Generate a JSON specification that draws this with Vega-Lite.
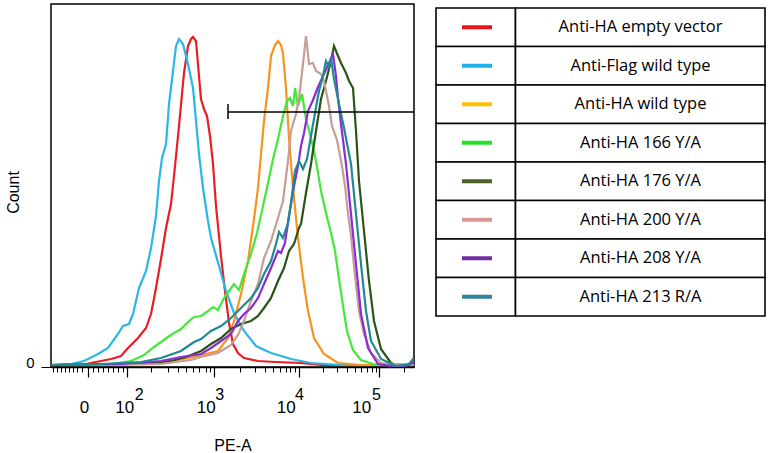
{
  "$schema": "https://vega.github.io/schema/vega-lite/v6.json",
  "background": "white",
  "padding": {"left": 4, "top": 3, "right": 0, "bottom": 0},
  "config": {"font": "Liberation Sans", "view": {"stroke": null}},
  "resolve": {"scale": {"color": "independent"}},
  "spacing": 19,
  "datasets": {
    "legend": [
      {"series": "Anti-HA empty vector"},
      {"series": "Anti-Flag wild type"},
      {"series": "Anti-HA wild type"},
      {"series": "Anti-HA 166 Y/A"},
      {"series": "Anti-HA 176 Y/A"},
      {"series": "Anti-HA 200 Y/A"},
      {"series": "Anti-HA 208 Y/A"},
      {"series": "Anti-HA 213 R/A"}
    ],
    "gate": [
      {"channel": 177, "channel2": 363, "count": 255, "count2": 255},
      {"channel": 177, "channel2": 177, "count": 248, "count2": 263}
    ],
    "curves": [
      {"series": "Anti-HA empty vector", "channel": 0, "count": 2},
      {"series": "Anti-HA empty vector", "channel": 30, "count": 2},
      {"series": "Anti-HA empty vector", "channel": 40, "count": 4},
      {"series": "Anti-HA empty vector", "channel": 50, "count": 6},
      {"series": "Anti-HA empty vector", "channel": 60, "count": 8},
      {"series": "Anti-HA empty vector", "channel": 70, "count": 11},
      {"series": "Anti-HA empty vector", "channel": 77, "count": 19},
      {"series": "Anti-HA empty vector", "channel": 87, "count": 29},
      {"series": "Anti-HA empty vector", "channel": 95, "count": 39},
      {"series": "Anti-HA empty vector", "channel": 100, "count": 53},
      {"series": "Anti-HA empty vector", "channel": 105, "count": 79},
      {"series": "Anti-HA empty vector", "channel": 110, "count": 108},
      {"series": "Anti-HA empty vector", "channel": 115, "count": 139},
      {"series": "Anti-HA empty vector", "channel": 120, "count": 163},
      {"series": "Anti-HA empty vector", "channel": 123, "count": 191},
      {"series": "Anti-HA empty vector", "channel": 128, "count": 241},
      {"series": "Anti-HA empty vector", "channel": 133, "count": 294},
      {"series": "Anti-HA empty vector", "channel": 137, "count": 321},
      {"series": "Anti-HA empty vector", "channel": 140, "count": 328},
      {"series": "Anti-HA empty vector", "channel": 142, "count": 330},
      {"series": "Anti-HA empty vector", "channel": 145, "count": 326},
      {"series": "Anti-HA empty vector", "channel": 148, "count": 291},
      {"series": "Anti-HA empty vector", "channel": 150, "count": 268},
      {"series": "Anti-HA empty vector", "channel": 153, "count": 258},
      {"series": "Anti-HA empty vector", "channel": 156, "count": 251},
      {"series": "Anti-HA empty vector", "channel": 159, "count": 231},
      {"series": "Anti-HA empty vector", "channel": 162, "count": 203},
      {"series": "Anti-HA empty vector", "channel": 165, "count": 161},
      {"series": "Anti-HA empty vector", "channel": 170, "count": 111},
      {"series": "Anti-HA empty vector", "channel": 174, "count": 76},
      {"series": "Anti-HA empty vector", "channel": 178, "count": 44},
      {"series": "Anti-HA empty vector", "channel": 182, "count": 23},
      {"series": "Anti-HA empty vector", "channel": 187, "count": 14},
      {"series": "Anti-HA empty vector", "channel": 193, "count": 9},
      {"series": "Anti-HA empty vector", "channel": 207, "count": 6},
      {"series": "Anti-HA empty vector", "channel": 225, "count": 5},
      {"series": "Anti-HA empty vector", "channel": 250, "count": 4},
      {"series": "Anti-HA empty vector", "channel": 270, "count": 2},
      {"series": "Anti-HA empty vector", "channel": 363, "count": 2},

      {"series": "Anti-Flag wild type", "channel": 0, "count": 2},
      {"series": "Anti-Flag wild type", "channel": 20, "count": 3},
      {"series": "Anti-Flag wild type", "channel": 33, "count": 6},
      {"series": "Anti-Flag wild type", "channel": 47, "count": 13},
      {"series": "Anti-Flag wild type", "channel": 57, "count": 19},
      {"series": "Anti-Flag wild type", "channel": 67, "count": 33},
      {"series": "Anti-Flag wild type", "channel": 72, "count": 41},
      {"series": "Anti-Flag wild type", "channel": 78, "count": 43},
      {"series": "Anti-Flag wild type", "channel": 82, "count": 53},
      {"series": "Anti-Flag wild type", "channel": 88, "count": 79},
      {"series": "Anti-Flag wild type", "channel": 95, "count": 96},
      {"series": "Anti-Flag wild type", "channel": 100, "count": 119},
      {"series": "Anti-Flag wild type", "channel": 105, "count": 151},
      {"series": "Anti-Flag wild type", "channel": 108, "count": 186},
      {"series": "Anti-Flag wild type", "channel": 111, "count": 209},
      {"series": "Anti-Flag wild type", "channel": 115, "count": 223},
      {"series": "Anti-Flag wild type", "channel": 118, "count": 263},
      {"series": "Anti-Flag wild type", "channel": 122, "count": 296},
      {"series": "Anti-Flag wild type", "channel": 125, "count": 321},
      {"series": "Anti-Flag wild type", "channel": 128, "count": 328},
      {"series": "Anti-Flag wild type", "channel": 132, "count": 323},
      {"series": "Anti-Flag wild type", "channel": 137, "count": 303},
      {"series": "Anti-Flag wild type", "channel": 142, "count": 279},
      {"series": "Anti-Flag wild type", "channel": 145, "count": 246},
      {"series": "Anti-Flag wild type", "channel": 148, "count": 213},
      {"series": "Anti-Flag wild type", "channel": 152, "count": 179},
      {"series": "Anti-Flag wild type", "channel": 157, "count": 146},
      {"series": "Anti-Flag wild type", "channel": 160, "count": 129},
      {"series": "Anti-Flag wild type", "channel": 168, "count": 101},
      {"series": "Anti-Flag wild type", "channel": 175, "count": 76},
      {"series": "Anti-Flag wild type", "channel": 183, "count": 54},
      {"series": "Anti-Flag wild type", "channel": 193, "count": 36},
      {"series": "Anti-Flag wild type", "channel": 205, "count": 21},
      {"series": "Anti-Flag wild type", "channel": 220, "count": 14},
      {"series": "Anti-Flag wild type", "channel": 240, "count": 8},
      {"series": "Anti-Flag wild type", "channel": 260, "count": 4},
      {"series": "Anti-Flag wild type", "channel": 290, "count": 2},
      {"series": "Anti-Flag wild type", "channel": 363, "count": 2},

      {"series": "Anti-HA wild type", "channel": 0, "count": 2},
      {"series": "Anti-HA wild type", "channel": 110, "count": 4},
      {"series": "Anti-HA wild type", "channel": 143, "count": 10},
      {"series": "Anti-HA wild type", "channel": 167, "count": 16},
      {"series": "Anti-HA wild type", "channel": 177, "count": 29},
      {"series": "Anti-HA wild type", "channel": 183, "count": 46},
      {"series": "Anti-HA wild type", "channel": 190, "count": 73},
      {"series": "Anti-HA wild type", "channel": 197, "count": 106},
      {"series": "Anti-HA wild type", "channel": 203, "count": 148},
      {"series": "Anti-HA wild type", "channel": 207, "count": 179},
      {"series": "Anti-HA wild type", "channel": 210, "count": 213},
      {"series": "Anti-HA wild type", "channel": 213, "count": 246},
      {"series": "Anti-HA wild type", "channel": 217, "count": 279},
      {"series": "Anti-HA wild type", "channel": 220, "count": 311},
      {"series": "Anti-HA wild type", "channel": 224, "count": 322},
      {"series": "Anti-HA wild type", "channel": 227, "count": 326},
      {"series": "Anti-HA wild type", "channel": 230, "count": 322},
      {"series": "Anti-HA wild type", "channel": 232, "count": 313},
      {"series": "Anti-HA wild type", "channel": 235, "count": 279},
      {"series": "Anti-HA wild type", "channel": 238, "count": 229},
      {"series": "Anti-HA wild type", "channel": 242, "count": 179},
      {"series": "Anti-HA wild type", "channel": 247, "count": 129},
      {"series": "Anti-HA wild type", "channel": 252, "count": 89},
      {"series": "Anti-HA wild type", "channel": 257, "count": 56},
      {"series": "Anti-HA wild type", "channel": 263, "count": 29},
      {"series": "Anti-HA wild type", "channel": 273, "count": 13},
      {"series": "Anti-HA wild type", "channel": 287, "count": 4},
      {"series": "Anti-HA wild type", "channel": 310, "count": 2},
      {"series": "Anti-HA wild type", "channel": 363, "count": 2},

      {"series": "Anti-HA 166 Y/A", "channel": 0, "count": 2},
      {"series": "Anti-HA 166 Y/A", "channel": 60, "count": 3},
      {"series": "Anti-HA 166 Y/A", "channel": 80, "count": 6},
      {"series": "Anti-HA 166 Y/A", "channel": 93, "count": 12},
      {"series": "Anti-HA 166 Y/A", "channel": 103, "count": 20},
      {"series": "Anti-HA 166 Y/A", "channel": 110, "count": 25},
      {"series": "Anti-HA 166 Y/A", "channel": 117, "count": 30},
      {"series": "Anti-HA 166 Y/A", "channel": 123, "count": 34},
      {"series": "Anti-HA 166 Y/A", "channel": 130, "count": 38},
      {"series": "Anti-HA 166 Y/A", "channel": 137, "count": 45},
      {"series": "Anti-HA 166 Y/A", "channel": 143, "count": 50},
      {"series": "Anti-HA 166 Y/A", "channel": 150, "count": 51},
      {"series": "Anti-HA 166 Y/A", "channel": 157, "count": 56},
      {"series": "Anti-HA 166 Y/A", "channel": 162, "count": 60},
      {"series": "Anti-HA 166 Y/A", "channel": 167, "count": 57},
      {"series": "Anti-HA 166 Y/A", "channel": 173, "count": 69},
      {"series": "Anti-HA 166 Y/A", "channel": 178, "count": 76},
      {"series": "Anti-HA 166 Y/A", "channel": 183, "count": 83},
      {"series": "Anti-HA 166 Y/A", "channel": 188, "count": 77},
      {"series": "Anti-HA 166 Y/A", "channel": 193, "count": 93},
      {"series": "Anti-HA 166 Y/A", "channel": 200, "count": 113},
      {"series": "Anti-HA 166 Y/A", "channel": 206, "count": 134},
      {"series": "Anti-HA 166 Y/A", "channel": 212, "count": 161},
      {"series": "Anti-HA 166 Y/A", "channel": 217, "count": 184},
      {"series": "Anti-HA 166 Y/A", "channel": 222, "count": 208},
      {"series": "Anti-HA 166 Y/A", "channel": 227, "count": 228},
      {"series": "Anti-HA 166 Y/A", "channel": 232, "count": 251},
      {"series": "Anti-HA 166 Y/A", "channel": 236, "count": 266},
      {"series": "Anti-HA 166 Y/A", "channel": 239, "count": 269},
      {"series": "Anti-HA 166 Y/A", "channel": 242, "count": 261},
      {"series": "Anti-HA 166 Y/A", "channel": 244, "count": 279},
      {"series": "Anti-HA 166 Y/A", "channel": 247, "count": 261},
      {"series": "Anti-HA 166 Y/A", "channel": 251, "count": 273},
      {"series": "Anti-HA 166 Y/A", "channel": 255, "count": 248},
      {"series": "Anti-HA 166 Y/A", "channel": 260, "count": 229},
      {"series": "Anti-HA 166 Y/A", "channel": 265, "count": 206},
      {"series": "Anti-HA 166 Y/A", "channel": 270, "count": 176},
      {"series": "Anti-HA 166 Y/A", "channel": 275, "count": 154},
      {"series": "Anti-HA 166 Y/A", "channel": 280, "count": 134},
      {"series": "Anti-HA 166 Y/A", "channel": 284, "count": 116},
      {"series": "Anti-HA 166 Y/A", "channel": 288, "count": 88},
      {"series": "Anti-HA 166 Y/A", "channel": 292, "count": 61},
      {"series": "Anti-HA 166 Y/A", "channel": 296, "count": 36},
      {"series": "Anti-HA 166 Y/A", "channel": 302, "count": 17},
      {"series": "Anti-HA 166 Y/A", "channel": 310, "count": 7},
      {"series": "Anti-HA 166 Y/A", "channel": 322, "count": 3},
      {"series": "Anti-HA 166 Y/A", "channel": 363, "count": 2},

      {"series": "Anti-HA 176 Y/A", "channel": 0, "count": 2},
      {"series": "Anti-HA 176 Y/A", "channel": 70, "count": 3},
      {"series": "Anti-HA 176 Y/A", "channel": 100, "count": 4},
      {"series": "Anti-HA 176 Y/A", "channel": 120, "count": 6},
      {"series": "Anti-HA 176 Y/A", "channel": 135, "count": 10},
      {"series": "Anti-HA 176 Y/A", "channel": 150, "count": 16},
      {"series": "Anti-HA 176 Y/A", "channel": 160, "count": 23},
      {"series": "Anti-HA 176 Y/A", "channel": 170, "count": 29},
      {"series": "Anti-HA 176 Y/A", "channel": 180, "count": 38},
      {"series": "Anti-HA 176 Y/A", "channel": 190, "count": 43},
      {"series": "Anti-HA 176 Y/A", "channel": 200, "count": 46},
      {"series": "Anti-HA 176 Y/A", "channel": 207, "count": 51},
      {"series": "Anti-HA 176 Y/A", "channel": 213, "count": 59},
      {"series": "Anti-HA 176 Y/A", "channel": 220, "count": 69},
      {"series": "Anti-HA 176 Y/A", "channel": 227, "count": 86},
      {"series": "Anti-HA 176 Y/A", "channel": 233, "count": 99},
      {"series": "Anti-HA 176 Y/A", "channel": 238, "count": 116},
      {"series": "Anti-HA 176 Y/A", "channel": 243, "count": 123},
      {"series": "Anti-HA 176 Y/A", "channel": 248, "count": 139},
      {"series": "Anti-HA 176 Y/A", "channel": 250, "count": 143},
      {"series": "Anti-HA 176 Y/A", "channel": 255, "count": 174},
      {"series": "Anti-HA 176 Y/A", "channel": 260, "count": 203},
      {"series": "Anti-HA 176 Y/A", "channel": 265, "count": 236},
      {"series": "Anti-HA 176 Y/A", "channel": 270, "count": 268},
      {"series": "Anti-HA 176 Y/A", "channel": 275, "count": 286},
      {"series": "Anti-HA 176 Y/A", "channel": 280, "count": 306},
      {"series": "Anti-HA 176 Y/A", "channel": 283, "count": 321},
      {"series": "Anti-HA 176 Y/A", "channel": 287, "count": 311},
      {"series": "Anti-HA 176 Y/A", "channel": 290, "count": 304},
      {"series": "Anti-HA 176 Y/A", "channel": 295, "count": 294},
      {"series": "Anti-HA 176 Y/A", "channel": 298, "count": 286},
      {"series": "Anti-HA 176 Y/A", "channel": 302, "count": 279},
      {"series": "Anti-HA 176 Y/A", "channel": 305, "count": 236},
      {"series": "Anti-HA 176 Y/A", "channel": 308, "count": 186},
      {"series": "Anti-HA 176 Y/A", "channel": 313, "count": 136},
      {"series": "Anti-HA 176 Y/A", "channel": 318, "count": 86},
      {"series": "Anti-HA 176 Y/A", "channel": 323, "count": 46},
      {"series": "Anti-HA 176 Y/A", "channel": 330, "count": 18},
      {"series": "Anti-HA 176 Y/A", "channel": 340, "count": 4},
      {"series": "Anti-HA 176 Y/A", "channel": 350, "count": 0},
      {"series": "Anti-HA 176 Y/A", "channel": 356, "count": 1},
      {"series": "Anti-HA 176 Y/A", "channel": 360, "count": 5},
      {"series": "Anti-HA 176 Y/A", "channel": 363, "count": 9},

      {"series": "Anti-HA 200 Y/A", "channel": 0, "count": 2},
      {"series": "Anti-HA 200 Y/A", "channel": 70, "count": 2},
      {"series": "Anti-HA 200 Y/A", "channel": 110, "count": 3},
      {"series": "Anti-HA 200 Y/A", "channel": 140, "count": 7},
      {"series": "Anti-HA 200 Y/A", "channel": 150, "count": 10},
      {"series": "Anti-HA 200 Y/A", "channel": 167, "count": 14},
      {"series": "Anti-HA 200 Y/A", "channel": 180, "count": 22},
      {"series": "Anti-HA 200 Y/A", "channel": 187, "count": 32},
      {"series": "Anti-HA 200 Y/A", "channel": 193, "count": 46},
      {"series": "Anti-HA 200 Y/A", "channel": 200, "count": 66},
      {"series": "Anti-HA 200 Y/A", "channel": 207, "count": 83},
      {"series": "Anti-HA 200 Y/A", "channel": 213, "count": 109},
      {"series": "Anti-HA 200 Y/A", "channel": 220, "count": 126},
      {"series": "Anti-HA 200 Y/A", "channel": 227, "count": 149},
      {"series": "Anti-HA 200 Y/A", "channel": 232, "count": 166},
      {"series": "Anti-HA 200 Y/A", "channel": 237, "count": 206},
      {"series": "Anti-HA 200 Y/A", "channel": 240, "count": 236},
      {"series": "Anti-HA 200 Y/A", "channel": 245, "count": 253},
      {"series": "Anti-HA 200 Y/A", "channel": 248, "count": 269},
      {"series": "Anti-HA 200 Y/A", "channel": 252, "count": 303},
      {"series": "Anti-HA 200 Y/A", "channel": 255, "count": 331},
      {"series": "Anti-HA 200 Y/A", "channel": 258, "count": 303},
      {"series": "Anti-HA 200 Y/A", "channel": 262, "count": 304},
      {"series": "Anti-HA 200 Y/A", "channel": 265, "count": 296},
      {"series": "Anti-HA 200 Y/A", "channel": 270, "count": 293},
      {"series": "Anti-HA 200 Y/A", "channel": 273, "count": 286},
      {"series": "Anti-HA 200 Y/A", "channel": 278, "count": 261},
      {"series": "Anti-HA 200 Y/A", "channel": 281, "count": 241},
      {"series": "Anti-HA 200 Y/A", "channel": 286, "count": 227},
      {"series": "Anti-HA 200 Y/A", "channel": 291, "count": 201},
      {"series": "Anti-HA 200 Y/A", "channel": 294, "count": 181},
      {"series": "Anti-HA 200 Y/A", "channel": 297, "count": 154},
      {"series": "Anti-HA 200 Y/A", "channel": 300, "count": 131},
      {"series": "Anti-HA 200 Y/A", "channel": 304, "count": 91},
      {"series": "Anti-HA 200 Y/A", "channel": 308, "count": 56},
      {"series": "Anti-HA 200 Y/A", "channel": 313, "count": 33},
      {"series": "Anti-HA 200 Y/A", "channel": 320, "count": 14},
      {"series": "Anti-HA 200 Y/A", "channel": 330, "count": 4},
      {"series": "Anti-HA 200 Y/A", "channel": 363, "count": 2},

      {"series": "Anti-HA 208 Y/A", "channel": 0, "count": 2},
      {"series": "Anti-HA 208 Y/A", "channel": 70, "count": 3},
      {"series": "Anti-HA 208 Y/A", "channel": 110, "count": 6},
      {"series": "Anti-HA 208 Y/A", "channel": 130, "count": 10},
      {"series": "Anti-HA 208 Y/A", "channel": 150, "count": 13},
      {"series": "Anti-HA 208 Y/A", "channel": 160, "count": 19},
      {"series": "Anti-HA 208 Y/A", "channel": 170, "count": 26},
      {"series": "Anti-HA 208 Y/A", "channel": 180, "count": 33},
      {"series": "Anti-HA 208 Y/A", "channel": 187, "count": 46},
      {"series": "Anti-HA 208 Y/A", "channel": 193, "count": 53},
      {"series": "Anti-HA 208 Y/A", "channel": 200, "count": 59},
      {"series": "Anti-HA 208 Y/A", "channel": 207, "count": 69},
      {"series": "Anti-HA 208 Y/A", "channel": 213, "count": 83},
      {"series": "Anti-HA 208 Y/A", "channel": 220, "count": 99},
      {"series": "Anti-HA 208 Y/A", "channel": 227, "count": 116},
      {"series": "Anti-HA 208 Y/A", "channel": 230, "count": 114},
      {"series": "Anti-HA 208 Y/A", "channel": 234, "count": 124},
      {"series": "Anti-HA 208 Y/A", "channel": 238, "count": 151},
      {"series": "Anti-HA 208 Y/A", "channel": 243, "count": 181},
      {"series": "Anti-HA 208 Y/A", "channel": 247, "count": 201},
      {"series": "Anti-HA 208 Y/A", "channel": 250, "count": 221},
      {"series": "Anti-HA 208 Y/A", "channel": 253, "count": 234},
      {"series": "Anti-HA 208 Y/A", "channel": 257, "count": 256},
      {"series": "Anti-HA 208 Y/A", "channel": 262, "count": 267},
      {"series": "Anti-HA 208 Y/A", "channel": 267, "count": 280},
      {"series": "Anti-HA 208 Y/A", "channel": 273, "count": 293},
      {"series": "Anti-HA 208 Y/A", "channel": 278, "count": 304},
      {"series": "Anti-HA 208 Y/A", "channel": 282, "count": 313},
      {"series": "Anti-HA 208 Y/A", "channel": 285, "count": 291},
      {"series": "Anti-HA 208 Y/A", "channel": 287, "count": 269},
      {"series": "Anti-HA 208 Y/A", "channel": 290, "count": 243},
      {"series": "Anti-HA 208 Y/A", "channel": 295, "count": 203},
      {"series": "Anti-HA 208 Y/A", "channel": 300, "count": 153},
      {"series": "Anti-HA 208 Y/A", "channel": 305, "count": 103},
      {"series": "Anti-HA 208 Y/A", "channel": 310, "count": 53},
      {"series": "Anti-HA 208 Y/A", "channel": 317, "count": 19},
      {"series": "Anti-HA 208 Y/A", "channel": 327, "count": 3},
      {"series": "Anti-HA 208 Y/A", "channel": 347, "count": 0},
      {"series": "Anti-HA 208 Y/A", "channel": 358, "count": 2},
      {"series": "Anti-HA 208 Y/A", "channel": 363, "count": 5},

      {"series": "Anti-HA 213 R/A", "channel": 0, "count": 2},
      {"series": "Anti-HA 213 R/A", "channel": 50, "count": 3},
      {"series": "Anti-HA 213 R/A", "channel": 90, "count": 5},
      {"series": "Anti-HA 213 R/A", "channel": 110, "count": 9},
      {"series": "Anti-HA 213 R/A", "channel": 130, "count": 16},
      {"series": "Anti-HA 213 R/A", "channel": 143, "count": 25},
      {"series": "Anti-HA 213 R/A", "channel": 150, "count": 28},
      {"series": "Anti-HA 213 R/A", "channel": 160, "count": 36},
      {"series": "Anti-HA 213 R/A", "channel": 170, "count": 41},
      {"series": "Anti-HA 213 R/A", "channel": 180, "count": 49},
      {"series": "Anti-HA 213 R/A", "channel": 190, "count": 59},
      {"series": "Anti-HA 213 R/A", "channel": 200, "count": 69},
      {"series": "Anti-HA 213 R/A", "channel": 207, "count": 79},
      {"series": "Anti-HA 213 R/A", "channel": 213, "count": 93},
      {"series": "Anti-HA 213 R/A", "channel": 220, "count": 106},
      {"series": "Anti-HA 213 R/A", "channel": 225, "count": 123},
      {"series": "Anti-HA 213 R/A", "channel": 228, "count": 135},
      {"series": "Anti-HA 213 R/A", "channel": 232, "count": 129},
      {"series": "Anti-HA 213 R/A", "channel": 237, "count": 144},
      {"series": "Anti-HA 213 R/A", "channel": 240, "count": 164},
      {"series": "Anti-HA 213 R/A", "channel": 244, "count": 196},
      {"series": "Anti-HA 213 R/A", "channel": 248, "count": 206},
      {"series": "Anti-HA 213 R/A", "channel": 252, "count": 198},
      {"series": "Anti-HA 213 R/A", "channel": 256, "count": 208},
      {"series": "Anti-HA 213 R/A", "channel": 260, "count": 231},
      {"series": "Anti-HA 213 R/A", "channel": 264, "count": 254},
      {"series": "Anti-HA 213 R/A", "channel": 268, "count": 276},
      {"series": "Anti-HA 213 R/A", "channel": 272, "count": 291},
      {"series": "Anti-HA 213 R/A", "channel": 275, "count": 306},
      {"series": "Anti-HA 213 R/A", "channel": 278, "count": 300},
      {"series": "Anti-HA 213 R/A", "channel": 280, "count": 309},
      {"series": "Anti-HA 213 R/A", "channel": 283, "count": 288},
      {"series": "Anti-HA 213 R/A", "channel": 288, "count": 263},
      {"series": "Anti-HA 213 R/A", "channel": 293, "count": 239},
      {"series": "Anti-HA 213 R/A", "channel": 300, "count": 203},
      {"series": "Anti-HA 213 R/A", "channel": 305, "count": 153},
      {"series": "Anti-HA 213 R/A", "channel": 310, "count": 103},
      {"series": "Anti-HA 213 R/A", "channel": 315, "count": 56},
      {"series": "Anti-HA 213 R/A", "channel": 320, "count": 26},
      {"series": "Anti-HA 213 R/A", "channel": 330, "count": 8},
      {"series": "Anti-HA 213 R/A", "channel": 345, "count": 1},
      {"series": "Anti-HA 213 R/A", "channel": 358, "count": 3},
      {"series": "Anti-HA 213 R/A", "channel": 363, "count": 8}
    ]
  },
  "hconcat": [
    {
      "width": 363,
      "height": 363,
      "view": {"stroke": "black", "strokeWidth": 1.5},
      "resolve": {"axis": {"x": "independent"}},
      "layer": [
        {
          "data": {"name": "curves"},
          "mark": {"type": "line", "strokeWidth": 2.2, "clip": true},
          "encoding": {
            "x": {
              "field": "channel",
              "type": "quantitative",
              "scale": {"domain": [0, 363], "nice": false, "zero": false},
              "axis": {
                "orient": "bottom",
                "title": null,
                "grid": false,
                "labels": false,
                "values": [1.7, 6, 10, 14, 18, 22, 26, 30.7, 41.7, 46.7, 51.7, 56.7, 61.7, 66.7, 71.7, 100, 116.7, 126.7, 135, 141.7, 148.3, 155, 159.3, 188.7, 203.6, 214.1, 222.3, 229, 234.6, 239.5, 243.8, 272, 286.2, 296.2, 304, 310.4, 315.8, 320.5, 324.6, 352.6],
                "tickSize": 5,
                "tickColor": "black",
                "tickWidth": 1,
                "domainColor": "black",
                "domainWidth": 1.5
              }
            },
            "y": {
              "field": "count",
              "type": "quantitative",
              "scale": {"domain": [0, 363], "nice": false},
              "axis": {
                "title": "Count",
                "titleFontSize": 16,
                "titleFontWeight": "normal",
                "titleColor": "black",
                "titleX": -30,
                "titleY": 188,
                "titleAngle": -90,
                "titleBaseline": "bottom",
                "titleAlign": "center",
                "values": [0],
                "labelFontSize": 15,
                "labelColor": "black",
                "labelPadding": 7,
                "labelBaseline": "alphabetic",
                "tickSize": 10,
                "tickColor": "black",
                "domain": false,
                "grid": false
              }
            },
            "color": {
              "field": "series",
              "type": "nominal",
              "scale": {
                "domain": ["Anti-HA empty vector", "Anti-Flag wild type", "Anti-HA wild type", "Anti-HA 166 Y/A", "Anti-HA 176 Y/A", "Anti-HA 200 Y/A", "Anti-HA 208 Y/A", "Anti-HA 213 R/A"],
                "range": ["#ec1c24", "#29b6e8", "#f7941d", "#44e83a", "#2a5516", "#c79d97", "#8c2bd8", "#1e8b90"]
              },
              "legend": null
            }
          }
        },
        {
          "data": {"name": "gate"},
          "mark": {"type": "rule", "color": "black", "strokeWidth": 1.5},
          "encoding": {
            "x": {
              "field": "channel",
              "type": "quantitative",
              "axis": {
                "orient": "bottom",
                "title": null,
                "grid": false,
                "labels": false,
                "domain": false,
                "values": [36.7, 76, 163.3, 247.7, 328.3],
                "tickSize": 10,
                "tickColor": "black",
                "tickWidth": 1.2
              }
            },
            "x2": {"field": "channel2"},
            "y": {"field": "count", "type": "quantitative"},
            "y2": {"field": "count2"}
          }
        },
        {
          "data": {"name": "gate"},
          "mark": {"type": "rule", "opacity": 0},
          "encoding": {
            "x": {
              "field": "channel",
              "type": "quantitative",
              "axis": {
                "orient": "bottom",
                "grid": false,
                "ticks": false,
                "domain": false,
                "values": [33, 73.3, 154.7, 234.7, 310.3],
                "labelExpr": "datum.value < 50 ? '0' : '10'",
                "labelOverlap": false,
                "labelFlush": false,
                "labelBound": false,
                "labelPadding": 32,
                "labelFontSize": 17,
                "labelColor": "black",
                "title": "PE-A",
                "titleFontSize": 16,
                "titleFontWeight": "normal",
                "titleColor": "black",
                "titlePadding": 22
              }
            },
            "x2": {"field": "channel2"},
            "y": {"field": "count", "type": "quantitative"},
            "y2": {"field": "count2"}
          }
        },
        {
          "data": {"name": "gate"},
          "mark": {"type": "rule", "opacity": 0},
          "encoding": {
            "x": {
              "field": "channel",
              "type": "quantitative",
              "axis": {
                "orient": "bottom",
                "grid": false,
                "ticks": false,
                "domain": false,
                "values": [87.8, 168.3, 248, 325],
                "labelExpr": "datum.value < 100 ? '2' : datum.value < 200 ? '3' : datum.value < 300 ? '4' : '5'",
                "labelOverlap": false,
                "labelFlush": false,
                "labelBound": false,
                "labelPadding": 19,
                "labelFontSize": 16,
                "labelColor": "black",
                "title": null
              }
            },
            "x2": {"field": "channel2"},
            "y": {"field": "count", "type": "quantitative"},
            "y2": {"field": "count2"}
          }
        }
      ]
    },
    {
      "width": 329,
      "height": 312,
      "data": {"name": "legend"},
      "view": {"stroke": null},
      "encoding": {
        "y": {
          "field": "series",
          "type": "nominal",
          "scale": {
            "domain": ["Anti-HA empty vector", "Anti-Flag wild type", "Anti-HA wild type", "Anti-HA 166 Y/A", "Anti-HA 176 Y/A", "Anti-HA 200 Y/A", "Anti-HA 208 Y/A", "Anti-HA 213 R/A"],
            "paddingInner": 0,
            "paddingOuter": 0.052,
            "align": 1
          },
          "axis": null
        }
      },
      "layer": [
        {
          "mark": {"type": "rect", "fill": "white", "stroke": "black", "strokeWidth": 1.6},
          "encoding": {
            "x": {"datum": 0, "type": "quantitative", "scale": {"domain": [0, 329], "nice": false, "zero": false}, "axis": null},
            "x2": {"datum": 79.5}
          }
        },
        {
          "mark": {"type": "rect", "fill": "white", "stroke": "black", "strokeWidth": 1.6},
          "encoding": {
            "x": {"datum": 79.5, "type": "quantitative", "scale": {"domain": [0, 329], "nice": false, "zero": false}, "axis": null},
            "x2": {"datum": 329}
          }
        },
        {
          "mark": {"type": "rule", "strokeWidth": 4},
          "encoding": {
            "x": {"datum": 26, "type": "quantitative", "scale": {"domain": [0, 329], "nice": false, "zero": false}, "axis": null},
            "x2": {"datum": 56},
            "color": {
              "field": "series",
              "type": "nominal",
              "scale": {
                "domain": ["Anti-HA empty vector", "Anti-Flag wild type", "Anti-HA wild type", "Anti-HA 166 Y/A", "Anti-HA 176 Y/A", "Anti-HA 200 Y/A", "Anti-HA 208 Y/A", "Anti-HA 213 R/A"],
                "range": ["#e8141c", "#1fb0e8", "#ffc000", "#22e02a", "#4f6228", "#d99694", "#7030a0", "#31849b"]
              },
              "legend": null
            }
          }
        },
        {
          "mark": {"type": "text", "font": "Open Sans", "fontSize": 16.5, "align": "center", "baseline": "middle", "color": "black"},
          "encoding": {
            "x": {"datum": 204.5, "type": "quantitative", "scale": {"domain": [0, 329], "nice": false, "zero": false}, "axis": null},
            "text": {"field": "series"}
          }
        }
      ]
    }
  ]
}
